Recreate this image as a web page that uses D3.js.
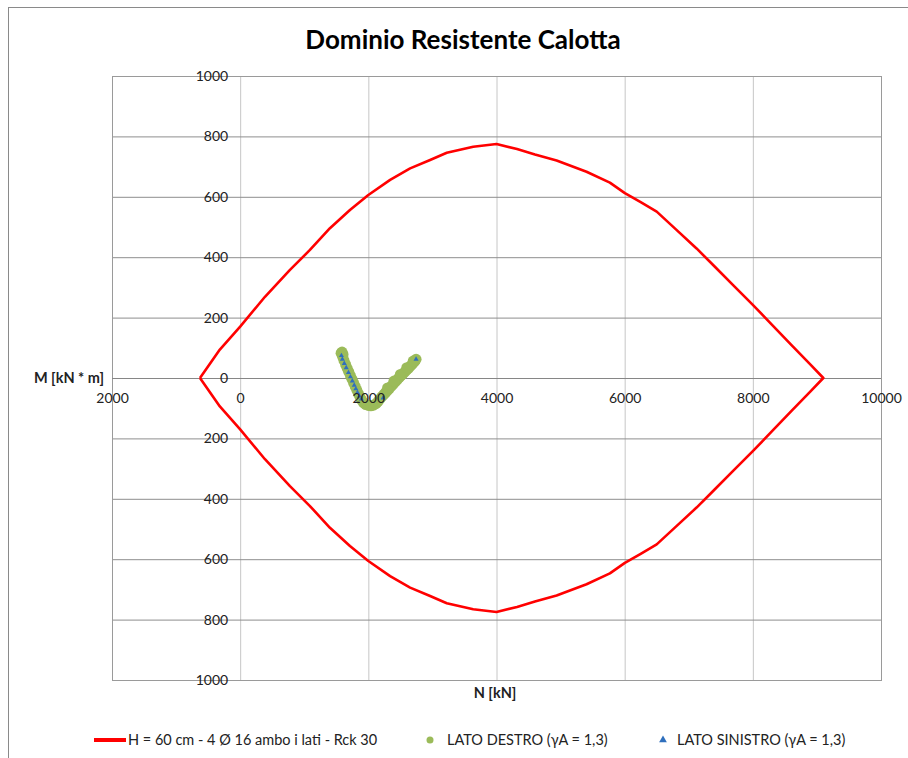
<!DOCTYPE html>
<html>
<head>
<meta charset="utf-8">
<script src="https://cdn.jsdelivr.net/npm/d3@7"></script>
<style>
  html, body { margin: 0; padding: 0; background: #fff; }
  svg { display: block; }
  text { font-family: Lato, "Open Sans", "DejaVu Sans", sans-serif; }
</style>
</head>
<body>
<svg id="chart" width="908" height="758"></svg>
<script>
// Interaction domain N–M, N in kN, M in kN*m
// upper branch (left tip -> peak)
const domainUpperN = [-627, -317, 0, 387, 777, 1089, 1401, 1713, 2000, 2340, 2652, 2964, 3224, 3637, 4000];
const domainUpperM = [0, 94, 170, 269, 358, 424, 496, 556, 606, 656, 694, 722, 746, 766, 775];
// upper branch (peak -> right tip)
const domainRightN = [4320, 4600, 4938, 5405, 5769, 6003, 6250, 6500, 6800, 7122, 7400, 7700, 8000, 8300, 8600, 8900, 9100];
const domainRightM = [758, 740, 720, 683, 647, 612, 582, 551, 492, 429, 370, 306, 242, 176, 110, 44, 0];
// lower branch (right tip -> left tip)
const domainLowerN = [8900, 8600, 8300, 8000, 7700, 7400, 7122, 6800, 6500, 6250, 6003, 5769, 5405, 4938, 4600, 4320, 4000, 3637, 3224, 2964, 2652, 2340, 2000, 1713, 1401, 1089, 777, 387, 0, -317, -627];
const domainLowerM = [-44, -110, -176, -242, -306, -370, -429, -492, -551, -582, -612, -647, -683, -720, -740, -758, -775, -766, -746, -722, -694, -656, -606, -556, -496, -424, -358, -269, -170, -94, 0];

// Load combinations, right side (circles)
const destroN = [1575, 1590, 1605, 1600, 1620, 1645, 1670, 1695, 1720, 1745, 1770, 1795, 1820, 1845, 1870, 1895, 1925, 1960, 2000, 2040, 2080, 2120,
                 2150, 2180, 2210, 2240, 2270, 2300, 2330, 2360, 2390, 2420, 2450, 2480, 2510, 2540, 2570, 2600, 2630, 2660, 2690, 2720, 2745,
                 2300, 2400, 2500, 2600, 2700];
const destroM = [82, 86, 78, 70, 58, 45, 32, 20, 8, -4, -16, -28, -40, -52, -63, -73, -82, -88, -91, -92, -90, -85,
                 -78, -70, -62, -55, -48, -41, -34, -27, -20, -13, -6, 1, 8, 14, 20, 27, 33, 40, 47, 54, 62,
                 -33, -10, 12, 34, 56];

// Load combinations, left side (triangles)
const sinistroN = [1580, 1595, 1625, 1655, 1690, 1720, 1750, 1780, 1805, 1830, 1860, 1890, 2230, 2745];
const sinistroM = [74, 62, 48, 34, 18, 4, -10, -24, -36, -48, -60, -70, -66, 62];

// Axis ticks and their printed labels
const xTicks = [-2000, 0, 2000, 4000, 6000, 8000, 10000];
const xTickLabels = ["2000", "0", "2000", "4000", "6000", "8000", "10000"];
const yTicks = [-1000, -800, -600, -400, -200, 0, 200, 400, 600, 800, 1000];
const yTickLabels = ["1000", "800", "600", "400", "200", "0", "200", "400", "600", "800", "1000"];

const titleText = "Dominio Resistente Calotta";
const xTitle = "N [kN]";
const yTitle = "M [kN * m]";
const seriesNames = ["H = 60 cm - 4 Ø 16 ambo i lati - Rck 30", "LATO DESTRO (γA = 1,3)", "LATO SINISTRO (γA = 1,3)"];

const svg = d3.select("#chart");
const plot = { left: 112, right: 881, top: 76, bottom: 680 };

const x = d3.scaleLinear().domain([-2000, 10000]).range([plot.left, plot.right]);
const y = d3.scaleLinear().domain([-1000, 1000]).range([plot.bottom, plot.top]);

// Outer chart frame
svg.append("rect")
  .attr("x", 8.5).attr("y", 7.5).attr("width", 1200).attr("height", 1200)
  .attr("fill", "#fff").attr("stroke", "#8a8a8a").attr("stroke-width", 1);

// Title
svg.append("text")
  .attr("x", 463).attr("y", 49)
  .attr("text-anchor", "middle")
  .attr("font-size", 26).attr("font-weight", 700).attr("fill", "#000")
  .text(titleText);

// Vertical gridlines
svg.append("g")
  .attr("transform", `translate(0,${plot.bottom})`)
  .call(d3.axisBottom(x).tickValues(xTicks).tickSize(-(plot.bottom - plot.top)).tickFormat(""))
  .call(g => g.select(".domain").remove())
  .call(g => g.selectAll("line").attr("stroke", "#c6c6c6").attr("stroke-width", 1));

// Horizontal gridlines
svg.append("g")
  .attr("transform", `translate(${plot.left},0)`)
  .call(d3.axisLeft(y).tickValues(yTicks).tickSize(-(plot.right - plot.left)).tickFormat(""))
  .call(g => g.select(".domain").remove())
  .call(g => g.selectAll("line").attr("stroke", "#8e8e8e").attr("stroke-width", 1));

// Plot area border
svg.append("rect")
  .attr("x", plot.left + 0.5).attr("y", plot.top + 0.5)
  .attr("width", plot.right - plot.left).attr("height", plot.bottom - plot.top)
  .attr("fill", "none").attr("stroke", "#9a9a9a").attr("stroke-width", 1);

// Horizontal axis through M = 0
svg.append("line")
  .attr("x1", plot.left).attr("x2", plot.right)
  .attr("y1", y(0) + 0.5).attr("y2", y(0) + 0.5)
  .attr("stroke", "#868686").attr("stroke-width", 1);

// Domain curve
const domainPts = [];
domainUpperN.forEach((n, i) => domainPts.push([n, domainUpperM[i]]));
domainRightN.forEach((n, i) => domainPts.push([n, domainRightM[i]]));
domainLowerN.forEach((n, i) => domainPts.push([n, domainLowerM[i]]));

svg.append("path")
  .datum(domainPts)
  .attr("fill", "none")
  .attr("stroke", "#ff0000")
  .attr("stroke-width", 2.6)
  .attr("stroke-linejoin", "round")
  .attr("d", d3.line().x(d => x(d[0])).y(d => y(d[1])));

// Right side points
svg.append("g").selectAll("circle")
  .data(destroN.map((n, i) => [n, destroM[i]]))
  .join("circle")
  .attr("cx", d => x(d[0])).attr("cy", d => y(d[1]))
  .attr("r", 5.5)
  .attr("fill", "#9bbb59");

// Left side points
const tri = d3.symbol().type(d3.symbolTriangle).size(11);
svg.append("g").selectAll("path")
  .data(sinistroN.map((n, i) => [n, sinistroM[i]]))
  .join("path")
  .attr("transform", d => `translate(${x(d[0])},${y(d[1])})`)
  .attr("d", tri)
  .attr("fill", "#2f6fbd");

// Tick labels, drawn over the grid
const labelFont = 14;
svg.append("g")
  .attr("transform", `translate(0,${y(0)})`)
  .call(d3.axisBottom(x).tickValues(xTicks).tickSize(0).tickPadding(15)
    .tickFormat((d, i) => xTickLabels[i]))
  .call(g => g.select(".domain").remove())
  .call(g => g.selectAll("text").attr("font-family", "Lato, 'Open Sans', sans-serif")
    .attr("font-size", labelFont).attr("fill", "#222"));

svg.append("g")
  .attr("transform", `translate(${x(0) - 12},0)`)
  .call(d3.axisLeft(y).tickValues(yTicks).tickSize(0).tickPadding(0)
    .tickFormat((d, i) => yTickLabels[i]))
  .call(g => g.select(".domain").remove())
  .call(g => g.selectAll("text").attr("font-family", "Lato, 'Open Sans', sans-serif")
    .attr("font-size", labelFont).attr("fill", "#222"));

// Axis titles
svg.append("text")
  .attr("x", 69).attr("y", y(0)).attr("dy", "0.35em")
  .attr("text-anchor", "middle")
  .attr("font-size", 14.5).attr("font-weight", 700).attr("fill", "#222")
  .text(yTitle);

svg.append("text")
  .attr("x", 495).attr("y", 693).attr("dy", "0.35em")
  .attr("text-anchor", "middle")
  .attr("font-size", 14.5).attr("font-weight", 700).attr("fill", "#222")
  .text(xTitle);

// Legend
const legendY = 740;
const legend = svg.append("g").attr("font-size", 14.5).attr("fill", "#222");
legend.append("line")
  .attr("x1", 94).attr("x2", 126).attr("y1", legendY).attr("y2", legendY)
  .attr("stroke", "#ff0000").attr("stroke-width", 4);
legend.append("text").attr("x", 128).attr("y", legendY).attr("dy", "0.35em").text(seriesNames[0]);
legend.append("circle").attr("cx", 430).attr("cy", legendY).attr("r", 3.5).attr("fill", "#9bbb59");
legend.append("text").attr("x", 447).attr("y", legendY).attr("dy", "0.35em").text(seriesNames[1]);
legend.append("path").attr("transform", `translate(663,${legendY})`)
  .attr("d", d3.symbol().type(d3.symbolTriangle).size(26)).attr("fill", "#2f6fbd");
legend.append("text").attr("x", 677).attr("y", legendY).attr("dy", "0.35em").text(seriesNames[2]);
</script>
</body>
</html>
